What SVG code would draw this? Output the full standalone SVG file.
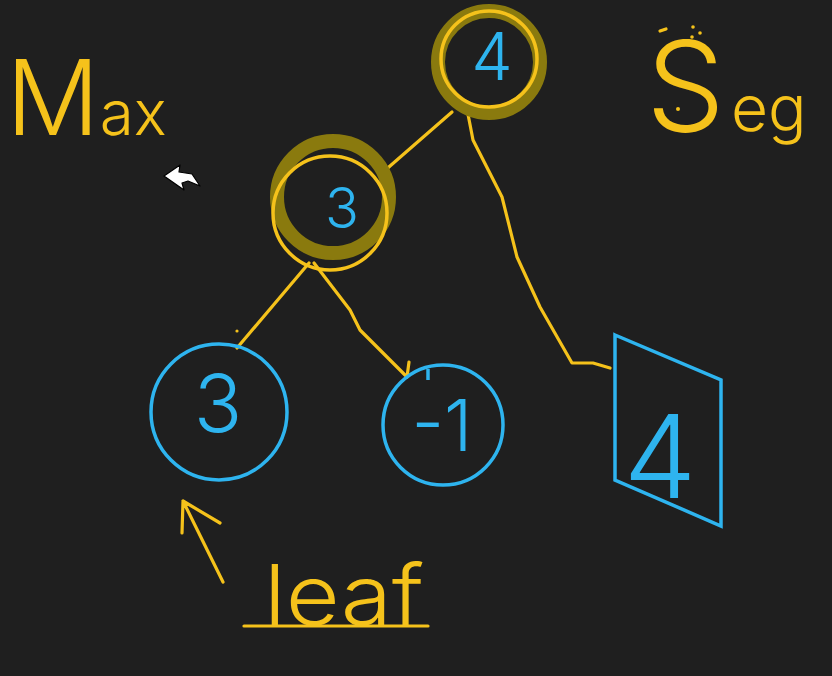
<svg xmlns="http://www.w3.org/2000/svg" width="832" height="676" viewBox="0 0 832 676">
<style>
.bg{fill:#1f1f1f}
.hl{fill:none;stroke:#8a7a0e;stroke-width:14}
.yc{fill:none;stroke:#f5c21b;stroke-width:3.5}
.bc{fill:none;stroke:#2eb4ef;stroke-width:3.5}
.wire{fill:none;stroke:#f5c21b;stroke-width:3.2;stroke-linecap:round;stroke-linejoin:round}
.num{font-family:Inter,"Liberation Sans",Arial,sans-serif;font-weight:300;fill:#2eb4ef;text-anchor:middle}
.hand{font-family:Inter,"Liberation Sans",Arial,sans-serif;font-weight:300;fill:#f5c21b}
.dot{fill:#f5c21b}
</style>
<rect class="bg" x="0" y="0" width="832" height="676"/>

<g id="connectors">
  <path class="wire" d="M452,112 L382,173"/>
  <path class="wire" d="M466,104 L473,140 L502,197 L517,257 L540,307 L572,363 L593,363 L610,368"/>
  <path class="wire" d="M309,263 L237,348"/>
  <path class="wire" d="M314,263 L350,310 L360,330 L387,357 L407,377 M409,362 L407,377"/>
  <circle class="dot" cx="237" cy="331" r="1.6"/>
</g>

<g id="node-root">
  <circle class="hl" cx="489" cy="62" r="51"/>
  <circle class="yc" cx="489" cy="59" r="48"/>
  <text class="num" x="492" y="80" font-size="66">4</text>
</g>

<g id="node-mid">
  <circle class="hl" cx="333" cy="197" r="56"/>
  <circle class="yc" cx="330" cy="213" r="57"/>
  <text class="num" x="342" y="228" font-size="56">3</text>
</g>

<g id="leaf-left">
  <circle class="bc" cx="219" cy="412" r="68"/>
  <text class="num" x="218" y="432" font-size="80">3</text>
</g>

<g id="leaf-right">
  <circle class="bc" cx="443" cy="425" r="60"/>
  <path class="bc" d="M428,369 L428,380"/>
  <text class="num" x="442" y="451" font-size="72">-1</text>
</g>

<g id="seg-box">
  <polygon class="bc" points="615,335 721,380 721,526 615,480"/>
  <text class="num" x="660" y="498" font-size="116">4</text>
</g>

<g id="label-max">
  <text class="hand" x="6" y="135"><tspan font-size="104">M</tspan><tspan font-size="62">ax</tspan></text>
</g>

<g id="label-seg">
  <text class="hand" x="646" y="131"><tspan font-size="125">S</tspan><tspan font-size="64" dx="6">eg</tspan></text>
  <path class="wire" d="M660,31 L666,29"/>
  <circle class="dot" cx="693" cy="27" r="1.8"/>
  <circle class="dot" cx="700" cy="33" r="1.8"/>
  <circle class="dot" cx="692" cy="37" r="1.8"/>
  <circle class="dot" cx="678" cy="109" r="2"/>
</g>

<g id="label-leaf">
  <path class="wire" d="M182,533 L183,501 L220,523 M183,501 L223,582"/>
  <text class="hand" x="264" y="625" font-size="84" textLength="160" lengthAdjust="spacingAndGlyphs">leaf</text>
  <path class="wire" d="M244,626 L428,626"/>
</g>

<g id="cursor">
  <polygon points="164,176 180,165 179,172 192,174 200,186 188,181 182,183 184,190" fill="#ffffff" stroke="#000000" stroke-width="1.2" stroke-linejoin="round"/>
</g>
</svg>
